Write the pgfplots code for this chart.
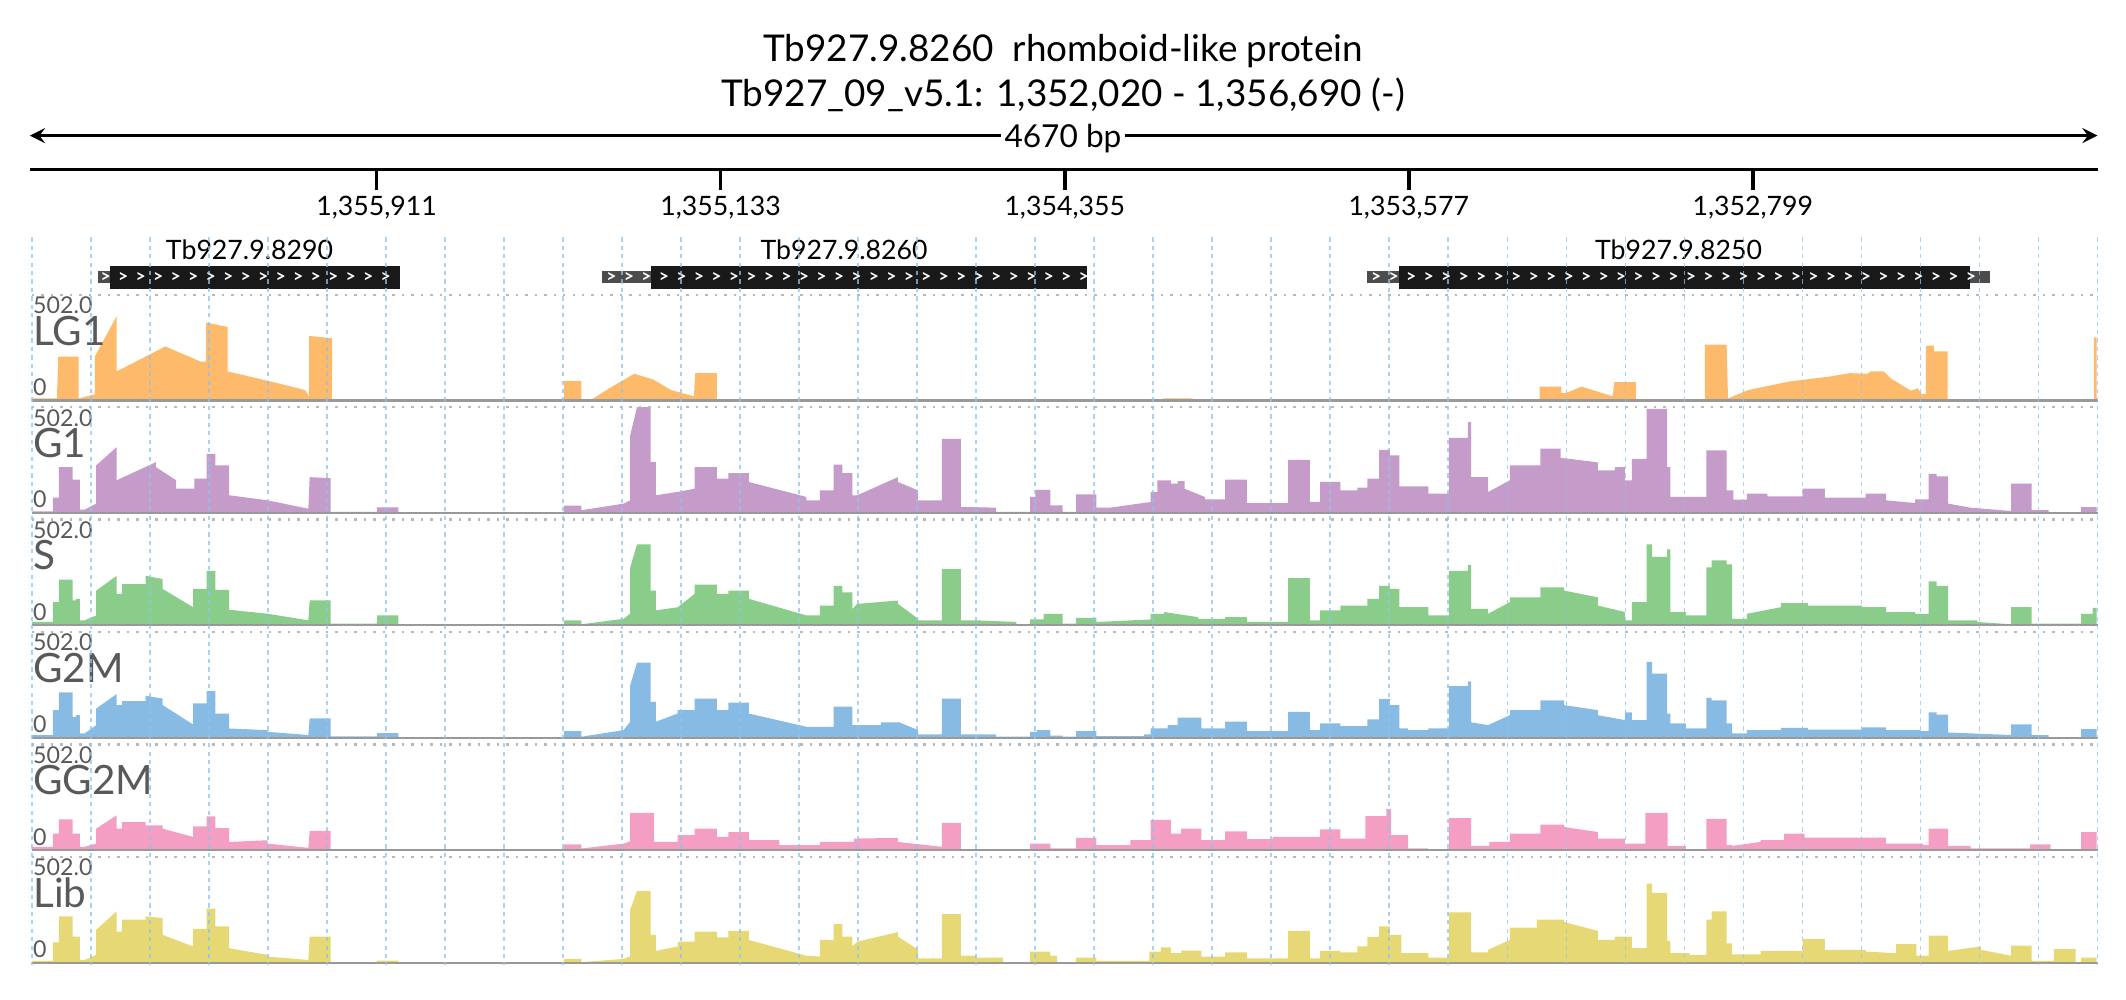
\documentclass[border=0pt]{standalone}
\usepackage{pgfplots}
\pgfplotsset{compat=1.18}
\usepackage{fontspec}
\setmainfont{Lato}
\definecolor{cLG}{HTML}{FDBA6A}
\definecolor{cG}{HTML}{C49BC9}
\definecolor{cS}{HTML}{8ACC8A}
\definecolor{cGM}{HTML}{88BBE4}
\definecolor{cGG}{HTML}{F49EC4}
\definecolor{cLib}{HTML}{E6D874}
\definecolor{gridb}{HTML}{8EC3EE}
\pgfplotsset{trk/.style={at={(0.31864cm,{-#1*0.013559cm})},anchor=south west,scale only axis,width=20.657cm,height=1.0576cm,
  xmin=23.5,xmax=1547,ymin=0,ymax=502,hide axis,clip=true}}
\newcommand{\trklabels}[3]{%
  \draw[gray!55,dotted,line width=0.7pt] (23.5,#1-78)--(1547,#1-78);
  \draw[gray!80,line width=0.6pt] (23.5,#1)--(1547,#1);
  \node[anchor=north west,inner sep=0pt,text=black!65,font=\fontsize{6.6}{7}\selectfont] at (24,#1-77) {502.0};
  \node[anchor=north west,inner sep=0pt,text=black!65,font=\fontsize{11.5}{12}\selectfont] at (24,#1-63) {#2};
  \node[anchor=south west,inner sep=0pt,text=black!65,font=\fontsize{6.6}{7}\selectfont] at (24,#1-3) {0};
}
\begin{document}
\begin{tikzpicture}[x=0.013559cm,y=-0.013559cm]
\useasboundingbox (0,0) rectangle (1568,737);
\node[font=\fontsize{10.5}{12}\selectfont] at (784,38) {Tb927.9.8260\ \ rhomboid-like protein};
\node[font=\fontsize{10.5}{12}\selectfont] at (784,70) {Tb927\_09\_v5.1: 1,352,020 - 1,356,690 (-)};
\draw[<->,>=stealth,line width=0.9pt] (22,100)--(1547,100);
\node[fill=white,inner sep=1pt,font=\fontsize{9}{10}\selectfont] at (784,102) {4670 bp};
\draw[line width=1.1pt] (22,125)--(1547,125);
\foreach \xx/\ll in {277.7/{1,355,911},531.5/{1,355,133},785.3/{1,354,355},1039/{1,353,577},1292.8/{1,352,799}}{
  \draw[line width=1pt] (\xx,125)--(\xx,140);
  \node[font=\fontsize{7.6}{9}\selectfont] at (\xx,153) {\ll};
}
\fill[black!70] (72.5,200) rectangle (81,209);
\fill[black!90] (81,196) rectangle (295,213);
\fill[black!70] (444,200) rectangle (480,209);
\fill[black!90] (480,196) rectangle (802,213);
\fill[black!70] (1008,200) rectangle (1032,209);
\fill[black!90] (1032,196) rectangle (1453,213);
\fill[black!70] (1453,200) rectangle (1468,209);
\foreach \s/\e in {75/293,448/800,1012/1462}{
  \pgfmathsetmacro{\n}{int((\e-\s)/12.9)}
  \foreach \k in {0,...,\n}{\node[text=white,inner sep=0pt,font=\fontsize{5}{5}\selectfont\bfseries] at (\s+12.9*\k+3,204.5) {>};}
}
\node[font=\fontsize{7.6}{9}\selectfont] at (184,184) {Tb927.9.8290};
\node[font=\fontsize{7.6}{9}\selectfont] at (622.5,184) {Tb927.9.8260};
\node[font=\fontsize{7.6}{9}\selectfont] at (1238,184) {Tb927.9.8250};

\begin{scope}[x=1cm,y=1cm]
\begin{axis}[trk=295.4]
\addplot[fill=cLG,draw=none] coordinates {(23.5,10)(42,10)(43,209)(58,209)(58,10)(70,30)(70,209)(86,400)(86,138)(122,257)(148,185)(152,185)(152,370)(168,350)(168,138)(200,90)(225,50)(228,20)(228,307)(245,296)(245,0)(416,0)(416,93)(429,93)(429,3)(436,3)(450,60)(468,127)(482,100)(495,50)(512,20)(513,130)(529,130)(529,0)(858,0)(858,10)(880,10)(880,0)(1136,0)(1136,66)(1152,66)(1152,35)(1155,35)(1167,66)(1190,20)(1191,87)(1207,87)(1207,0)(1258,0)(1258,265)(1274,265)(1275,10)(1290,50)(1320,90)(1350,114)(1365,130)(1378,127)(1380,138)(1390,138)(1395,106)(1405,66)(1410,47)(1415,58)(1418,30)(1421,30)(1421,261)(1427,261)(1427,233)(1437,233)(1437,3)(1545,3)(1545,300)(1547,300)} \closedcycle;
\end{axis}

\begin{axis}[trk=378.3]
\addplot[fill=cG,draw=none] coordinates {(23.5,8)(39,8)(39,73)(43.5,73)(43.5,218)(53.5,218)(53.5,158)(59,158)(59,16)(62.5,16)(71,44)(71,226)(86,312)(86,155)(115,241)(115,218)(130,155)(130,115)(143.5,115)(143.5,163)(152.5,163)(152.5,281)(159,281)(159,226)(169,226)(169,84)(197.5,60)(227.5,20)(228.5,170)(244,165)(244,5)(278,5)(278,27)(294,27)(294,0)(416,0)(416,35)(429,35)(429,13)(460,44)(465,60)(465,368)(470,502)(480,502)(480,241)(484,241)(484,84)(500,100)(512.5,115)(512.5,218)(529,218)(529,163)(537.5,163)(537.5,189)(552.5,189)(552.5,147)(595,76)(595,60)(605,60)(605,107)(615,107)(615,230)(621.5,230)(621.5,189)(629,189)(629,84)(632.5,84)(662.5,170)(662.5,147)(677.5,107)(677.5,60)(695,60)(695,352)(709,352)(709,28)(715,28)(735,25)(735,5)(760,5)(760,76)(764,76)(764,110)(775,110)(775,36)(784,36)
(784,5)(794,5)(794,88)(809,88)(809,25)(819,25)(849,52)(849,99)(854,99)(854,155)(864,155)(864,139)(869,139)(869,151)(874,151)(874,115)(889,76)(889,65)(904,65)(904,158)(920,158)(920,47)(950.5,47)(950.5,252)(966.5,252)(966.5,52)(974,52)(974,147)(989,147)(989,107)(1001.5,107)(1001.5,120)(1009,120)(1009,163)(1017.5,163)(1017.5,300)(1025.5,300)(1025.5,273)(1032.5,273)(1032.5,126)(1054,126)(1054,92)(1069,92)(1069,357)(1083,357)(1083,431)(1085.5,431)(1085.5,170)(1098,170)(1098,99)(1114,155)(1114,226)(1136.5,226)(1136.5,305)(1151.5,305)(1151.5,262)(1179,240)(1179,202)(1191.5,202)(1191.5,218)(1199,218)(1199,155)(1204,155)(1204,257)(1215,257)(1215,494)(1230,494)(1230,218)(1232.5,218)(1232.5,76)(1259,76)(1259,297)(1274,297)(1274,107)(1279,107)(1279,63)(1289,63)(1289,92)(1304,92)(1304,79)(1330,79)(1330,115)(1346.5,115)(1346.5,73)(1376.5,73)(1376.5,92)(1391.5,92)(1391.5,60)(1413,47)(1413,65)(1423,65)(1423,186)(1429,186)(1429,174)(1437.5,174)(1437.5,44)(1454,25)(1484,9)(1484,139)(1499,139)(1499,13)(1511.5,13)(1511.5,3)(1535.5,3)(1535.5,28)(1547,28)} \closedcycle;
\end{axis}

\begin{axis}[trk=461.2]
\addplot[fill=cS,draw=none] coordinates {(23.5,16)(39,16)(39,110)(43.5,110)(43.5,217)(53.5,217)(53.5,118)(56,118)(56,126)(59,126)(59,24)(62.5,24)(71,47)(71,165)(86,235)(86,149)(90,149)(90,196)(107.5,196)(107.5,235)(120,220)(120,173)(142.5,86)(142.5,173)(152.5,173)(152.5,259)(159,259)(159,168)(169,168)(169,74)(197.5,55)(227.5,24)(228.5,118)(244,118)(244,8)(278,8)(278,47)(294,47)(294,0)(416,0)(416,24)(429,24)(429,5)(460,31)(465,55)(465,275)(470,384)(480,384)(480,165)(484,165)(484,71)(500,86)(512.5,149)(512.5,193)(529,193)(529,149)(537.5,149)(537.5,165)(552.5,165)(552.5,126)(595,47)(605,47)(605,94)(615,94)(615,188)(621.5,188)(621.5,157)(629,157)(629,78)(632.5,102)(662.5,118)(662.5,102)(677.5,31)(677.5,24)(695,24)(695,267)(709,267)(709,24)(720,24)(750,16)(750,5)(760,5)(760,28)(770,28)(770,55)(784,55)
(784,8)(794,8)(794,36)(809,36)(809,16)(849,28)(849,55)(859,55)(859,63)(884,39)(884,31)(904,31)(904,39)(920,39)(920,16)(950.5,16)(950.5,224)(966.5,224)(966.5,24)(974,24)(974,71)(989,71)(989,94)(1009,94)(1009,126)(1017.5,126)(1017.5,188)(1025.5,188)(1025.5,173)(1032.5,173)(1032.5,86)(1054,86)(1054,47)(1069,47)(1069,259)(1083,259)(1083,287)(1085.5,287)(1085.5,78)(1098,78)(1098,55)(1114,110)(1114,133)(1136.5,133)(1136.5,180)(1154,180)(1154,165)(1179,133)(1179,94)(1199,63)(1199,24)(1204,24)(1204,110)(1215,110)(1215,384)(1219,384)(1219,325)(1230,325)(1230,361)(1232.5,361)(1232.5,63)(1244,63)(1244,47)(1259,47)(1259,275)(1263,275)(1263,309)(1274,309)(1274,290)(1278,290)(1278,31)(1289,31)(1289,55)(1314,86)(1314,105)(1334,105)(1334,94)(1374,94)(1374,86)(1391.5,86)(1391.5,63)(1413,63)(1413,55)(1423,55)(1423,209)(1429,209)(1429,188)(1437.5,188)(1437.5,24)(1459,24)(1459,16)(1484,5)(1484,86)(1499,86)(1499,8)(1535.5,8)(1535.5,55)(1544,55)(1544,83)(1547,83)} \closedcycle;
\end{axis}

\begin{axis}[trk=544.1]
\addplot[fill=cGM,draw=none] coordinates {(23.5,13)(39,13)(39,131)(43.5,131)(43.5,215)(53.5,215)(53.5,99)(56,99)(56,107)(59,107)(59,21)(62.5,21)(71,60)(71,139)(86,207)(86,155)(90,155)(90,174)(107.5,174)(107.5,199)(120,186)(120,155)(142.5,63)(142.5,163)(152.5,163)(152.5,221)(159,221)(159,115)(169,115)(169,44)(197.5,36)(197.5,28)(227.5,13)(228.5,92)(244,92)(244,6)(278,6)(278,22)(294,22)(294,0)(416,0)(416,32)(429,32)(429,5)(460,36)(465,76)(465,249)(470,357)(480,357)(480,170)(484,170)(484,76)(500,115)(500,131)(512.5,131)(512.5,186)(529,186)(529,131)(537.5,131)(537.5,167)(552.5,167)(552.5,115)(595,52)(615,52)(615,148)(629,148)(629,60)(650,60)(650,73)(662.5,73)(662.5,76)(677.5,36)(677.5,16)(695,16)(695,186)(709,186)(709,16)(735,16)(735,5)(760,5)(760,28)(765,28)(765,36)(775,36)(775,10)(784,10)
(784,5)(794,5)(794,32)(809,32)(809,8)(844,8)(844,16)(849,16)(849,44)(861.5,44)(861.5,60)(869,60)(869,96)(886.5,96)(886.5,44)(904,44)(904,76)(920,76)(920,32)(950.5,32)(950.5,123)(966.5,123)(966.5,36)(974,36)(974,68)(989,68)(989,55)(1009,55)(1009,87)(1017.5,87)(1017.5,183)(1025.5,183)(1025.5,155)(1032.5,155)(1032.5,44)(1039,44)(1039,36)(1054,36)(1054,44)(1069,44)(1069,245)(1083,245)(1083,268)(1085.5,268)(1085.5,73)(1098,60)(1114,107)(1114,131)(1136.5,131)(1136.5,178)(1154,178)(1154,155)(1179,131)(1179,107)(1199,84)(1199,120)(1204,120)(1204,84)(1215,84)(1215,360)(1219,360)(1219,305)(1230,305)(1230,115)(1232.5,115)(1232.5,68)(1244,68)(1244,44)(1259,44)(1259,189)(1263,189)(1263,178)(1274,178)(1274,68)(1278,68)(1278,21)(1289,21)(1289,36)(1314,36)(1314,47)(1334,47)(1334,39)(1374,39)(1374,49)(1391.5,49)(1391.5,36)(1416.5,36)(1416.5,32)(1423,32)(1423,120)(1429,120)(1429,110)(1437.5,110)(1437.5,25)(1484,13)(1484,63)(1499,63)(1499,13)(1511.5,13)(1511.5,2)(1535.5,2)(1535.5,41)(1547,41)} \closedcycle;
\end{axis}

\begin{axis}[trk=627]
\addplot[fill=cGG,draw=none] coordinates {(23.5,16)(39,16)(39,78)(43.5,78)(43.5,146)(53.5,146)(53.5,78)(59,78)(59,16)(62.5,16)(71,31)(71,102)(86,165)(86,102)(90,102)(90,133)(107.5,133)(107.5,118)(120,118)(120,102)(142.5,63)(142.5,113)(152.5,113)(152.5,160)(159,160)(159,105)(169,105)(169,39)(197.5,47)(197.5,31)(227.5,11)(228.5,91)(244,91)(244,3)(416,3)(416,27)(429,27)(429,8)(460,31)(465,42)(465,177)(482.5,177)(482.5,39)(500,39)(500,71)(512.5,71)(512.5,102)(529,102)(529,63)(537.5,63)(537.5,86)(552.5,86)(552.5,47)(575,47)(575,24)(605,24)(605,39)(630,39)(630,55)(662.5,58)(662.5,39)(695,16)(695,129)(709,129)(709,5)(760,5)(760,31)(775,31)(775,8)(784,8)
(784,8)(794,8)(794,58)(809,58)(809,24)(834,24)(834,47)(849,47)(849,144)(864,144)(864,78)(871.5,78)(871.5,102)(886.5,102)(886.5,47)(904,47)(904,89)(920,89)(920,52)(939,52)(939,63)(974,63)(974,99)(989,99)(989,55)(1007.5,55)(1007.5,162)(1023,162)(1023,196)(1026.5,196)(1026.5,71)(1039,71)(1039,8)(1054,8)(1054,3)(1069,3)(1069,152)(1085.5,152)(1085.5,20)(1099,20)(1099,39)(1114,39)(1114,78)(1136.5,78)(1136.5,121)(1154,121)(1154,110)(1179,86)(1179,55)(1199,55)(1199,31)(1214,31)(1214,177)(1230.5,177)(1230.5,19)(1244,19)(1244,5)(1259,5)(1259,149)(1274,149)(1274,24)(1278,24)(1278,20)(1299,39)(1299,47)(1316.5,47)(1316.5,78)(1331.5,78)(1331.5,60)(1391.5,60)(1391.5,31)(1419,31)(1419,24)(1423,24)(1423,102)(1437.5,102)(1437.5,20)(1454,20)(1454,8)(1498,8)(1498,27)(1513,27)(1513,3)(1535.5,3)(1535.5,86)(1547,86)} \closedcycle;
\end{axis}

\begin{axis}[trk=710]
\addplot[fill=cLib,draw=none] coordinates {(23.5,8)(39,8)(39,97)(43.5,97)(43.5,220)(53.5,220)(53.5,124)(59,124)(59,13)(62.5,13)(71,37)(71,156)(86,244)(86,148)(90,148)(90,204)(107.5,204)(107.5,220)(120,212)(120,132)(142.5,77)(142.5,161)(152.5,161)(152.5,257)(159,257)(159,172)(169,172)(169,69)(197.5,37)(197.5,29)(227.5,13)(228.5,124)(244,124)(244,2)(278,2)(278,10)(294,10)(294,0)(416,0)(416,18)(429,18)(429,2)(460,18)(465,30)(465,252)(470,340)(480,340)(480,132)(484,132)(484,56)(500,77)(500,100)(512.5,100)(512.5,148)(529,148)(529,120)(537.5,120)(537.5,151)(552.5,151)(552.5,108)(595,33)(605,29)(605,108)(615,108)(615,183)(621.5,183)(621.5,124)(629,124)(629,77)(632.5,100)(662.5,145)(662.5,124)(677.5,61)(677.5,21)(695,21)(695,231)(709,231)(709,33)(720,33)(720,24)(740,24)(740,2)(760,2)(760,53)(775,53)(775,33)(780,33)(780,2)(784,2)
(784,2)(794,2)(794,24)(809,24)(809,8)(848,8)(848,53)(856.5,53)(856.5,73)(864,73)(864,45)(871.5,45)(871.5,57)(886.5,57)(886.5,29)(904,29)(904,49)(920,49)(920,21)(950.5,21)(950.5,151)(966.5,151)(966.5,21)(974,21)(974,56)(989,56)(989,49)(1001.5,49)(1001.5,77)(1009,77)(1009,123)(1017.5,123)(1017.5,172)(1025.5,172)(1025.5,132)(1034,132)(1034,45)(1054,45)(1054,24)(1069,24)(1069,239)(1085.5,239)(1085.5,49)(1098,49)(1098,61)(1114,108)(1114,167)(1134,167)(1134,204)(1154,204)(1154,193)(1179,151)(1179,108)(1191.5,108)(1191.5,124)(1204,124)(1204,69)(1215,69)(1215,375)(1219,375)(1219,332)(1230,332)(1230,104)(1232.5,104)(1232.5,45)(1246.5,45)(1246.5,37)(1259,37)(1259,204)(1263,204)(1263,244)(1274,244)(1274,92)(1278,92)(1278,40)(1299,40)(1299,56)(1330,56)(1330,113)(1346.5,113)(1346.5,61)(1376.5,61)(1376.5,53)(1399,45)(1399,88)(1414,88)(1414,33)(1423,33)(1423,129)(1437.5,129)(1437.5,56)(1461.5,77)(1461.5,61)(1484,33)(1484,81)(1499,81)(1499,8)(1515.5,8)(1515.5,64)(1531.5,64)(1531.5,2)(1535.5,2)(1535.5,24)(1547,24)} \closedcycle;
\end{axis}
\end{scope}

\trklabels{295.4}{LG1}{}
\trklabels{378.3}{G1}{}
\trklabels{461.2}{S}{}
\trklabels{544.1}{G2M}{}
\trklabels{627}{GG2M}{}
\trklabels{710}{Lib}{}

\foreach \k in {0,...,35}{
  \draw[gridb,dash pattern=on 1.2pt off 1.2pt,line width=0.5pt,opacity=0.75] (23.5+43.53*\k,175)--(23.5+43.53*\k,712);
}
\end{tikzpicture}
\end{document}
